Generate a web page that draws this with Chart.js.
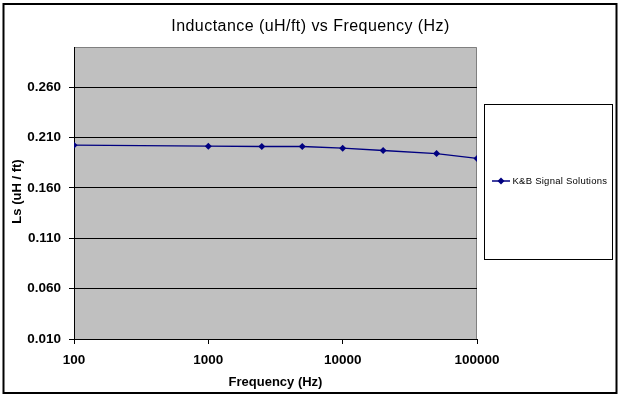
<!DOCTYPE html>
<html>
<head>
<meta charset="utf-8">
<script src="https://cdn.jsdelivr.net/npm/chart.js@4"></script>
<style>
html,body{margin:0;padding:0;background:#fff;}
canvas{display:block;}
</style>
</head>
<body>
<canvas id="c" width="623" height="398"></canvas>
<script>
const chartTitle = "Inductance (uH/ft) vs Frequency (Hz)";
const xTitle = "Frequency (Hz)";
const yTitle = "Ls (uH / ft)";
const seriesName = "K&B Signal Solutions";
const frequencies = [100, 1000, 2500, 5000, 10000, 20000, 50000, 100000];
const inductance = [0.2025, 0.2015, 0.2012, 0.2012, 0.1995, 0.1972, 0.1942, 0.1893];
const xTickValues = [100, 1000, 10000, 100000];
const yTickValues = [0.010, 0.060, 0.110, 0.160, 0.210, 0.260];

const FONT = "'Liberation Sans', Arial, sans-serif";
const NAVY = "#000080";

const decor = {
  id: 'decor',
  beforeDraw(chart) {
    const ctx = chart.ctx, a = chart.chartArea;
    ctx.save();
    ctx.fillStyle = '#fff';
    ctx.fillRect(0, 0, chart.width, chart.height);
    ctx.fillStyle = '#C0C0C0';
    ctx.fillRect(a.left, a.top, a.right - a.left, a.bottom - a.top);
    ctx.strokeStyle = '#808080';
    ctx.lineWidth = 1;
    ctx.beginPath();
    ctx.moveTo(a.left + 0.5, a.bottom);
    ctx.lineTo(a.left + 0.5, a.top + 0.5);
    ctx.lineTo(a.right - 0.5, a.top + 0.5);
    ctx.lineTo(a.right - 0.5, a.bottom);
    ctx.stroke();
    ctx.restore();
  },
  afterDraw(chart) {
    const ctx = chart.ctx, a = chart.chartArea;
    ctx.save();
    // outer border
    ctx.strokeStyle = '#000';
    ctx.lineWidth = 2;
    ctx.strokeRect(3.5, 4, 613, 389);
    // title
    ctx.fillStyle = '#000';
    ctx.textAlign = 'center';
    ctx.textBaseline = 'middle';
    ctx.font = "16px " + FONT;
    ctx.letterSpacing = '0.45px';
    ctx.fillText(chartTitle, 310.5, 27);
    ctx.letterSpacing = '0px';
    // x title
    ctx.font = "bold 13px " + FONT;
    ctx.fillText(xTitle, (a.left + a.right) / 2, 382);
    // y title
    ctx.save();
    ctx.translate(17, 191.5);
    ctx.rotate(-Math.PI / 2);
    ctx.fillText(yTitle, 0, 0);
    ctx.restore();
    // legend
    ctx.lineWidth = 1;
    ctx.strokeStyle = '#000';
    ctx.strokeRect(484.5, 104.5, 128, 155);
    const ly = 181;
    ctx.strokeStyle = NAVY;
    ctx.lineWidth = 1.5;
    ctx.beginPath();
    ctx.moveTo(492, ly);
    ctx.lineTo(510, ly);
    ctx.stroke();
    ctx.fillStyle = NAVY;
    ctx.beginPath();
    ctx.moveTo(501, ly - 3.5);
    ctx.lineTo(504.5, ly);
    ctx.lineTo(501, ly + 3.5);
    ctx.lineTo(497.5, ly);
    ctx.closePath();
    ctx.fill();
    ctx.fillStyle = '#000';
    ctx.textAlign = 'left';
    ctx.font = "9.5px " + FONT;
    ctx.letterSpacing = '0.25px';
    ctx.fillText(seriesName, 512.5, ly);
    ctx.letterSpacing = '0px';
    ctx.restore();
  }
};

new Chart(document.getElementById('c'), {
  type: 'scatter',
  data: {
    datasets: [{
      label: seriesName,
      data: frequencies.map((f, i) => ({x: f, y: inductance[i]})),
      showLine: true,
      borderColor: NAVY,
      backgroundColor: NAVY,
      borderWidth: 1.3,
      pointStyle: 'rectRot',
      pointRadius: 3.5,
      pointBorderWidth: 0,
      pointBackgroundColor: NAVY,
      tension: 0
    }]
  },
  options: {
    responsive: false,
    animation: false,
    devicePixelRatio: 1,
    layout: { padding: { left: 0, top: 47, right: 146, bottom: 0 } },
    plugins: {
      legend: { display: false },
      title: { display: false },
      tooltip: { enabled: false }
    },
    scales: {
      x: {
        type: 'logarithmic',
        min: 100,
        max: 100000,
        afterBuildTicks(scale) { scale.ticks = xTickValues.map(v => ({value: v})); },
        afterFit(scale) { scale.height = 59; },
        ticks: {
          color: '#000',
          font: { family: FONT, size: 13.5, weight: 'bold' },
          padding: 8,
          maxRotation: 0,
          autoSkip: false,
          callback: (v) => String(v)
        },
        grid: { drawOnChartArea: false, drawTicks: true, tickLength: 5, color: '#000' },
        border: { display: true, color: '#000', width: 1 }
      },
      y: {
        min: 0.01,
        max: 0.30,
        afterBuildTicks(scale) { scale.ticks = yTickValues.map(v => ({value: v})); },
        afterFit(scale) { scale.width = 74; },
        ticks: {
          color: '#000',
          font: { family: FONT, size: 13.5, weight: 'bold' },
          padding: 8,
          autoSkip: false,
          callback: (v) => Number(v).toFixed(3)
        },
        grid: { drawOnChartArea: true, drawTicks: true, tickLength: 5, color: '#000', lineWidth: 1 },
        border: { display: true, color: '#000', width: 1 }
      }
    }
  },
  plugins: [decor]
});
</script>
</body>
</html>
